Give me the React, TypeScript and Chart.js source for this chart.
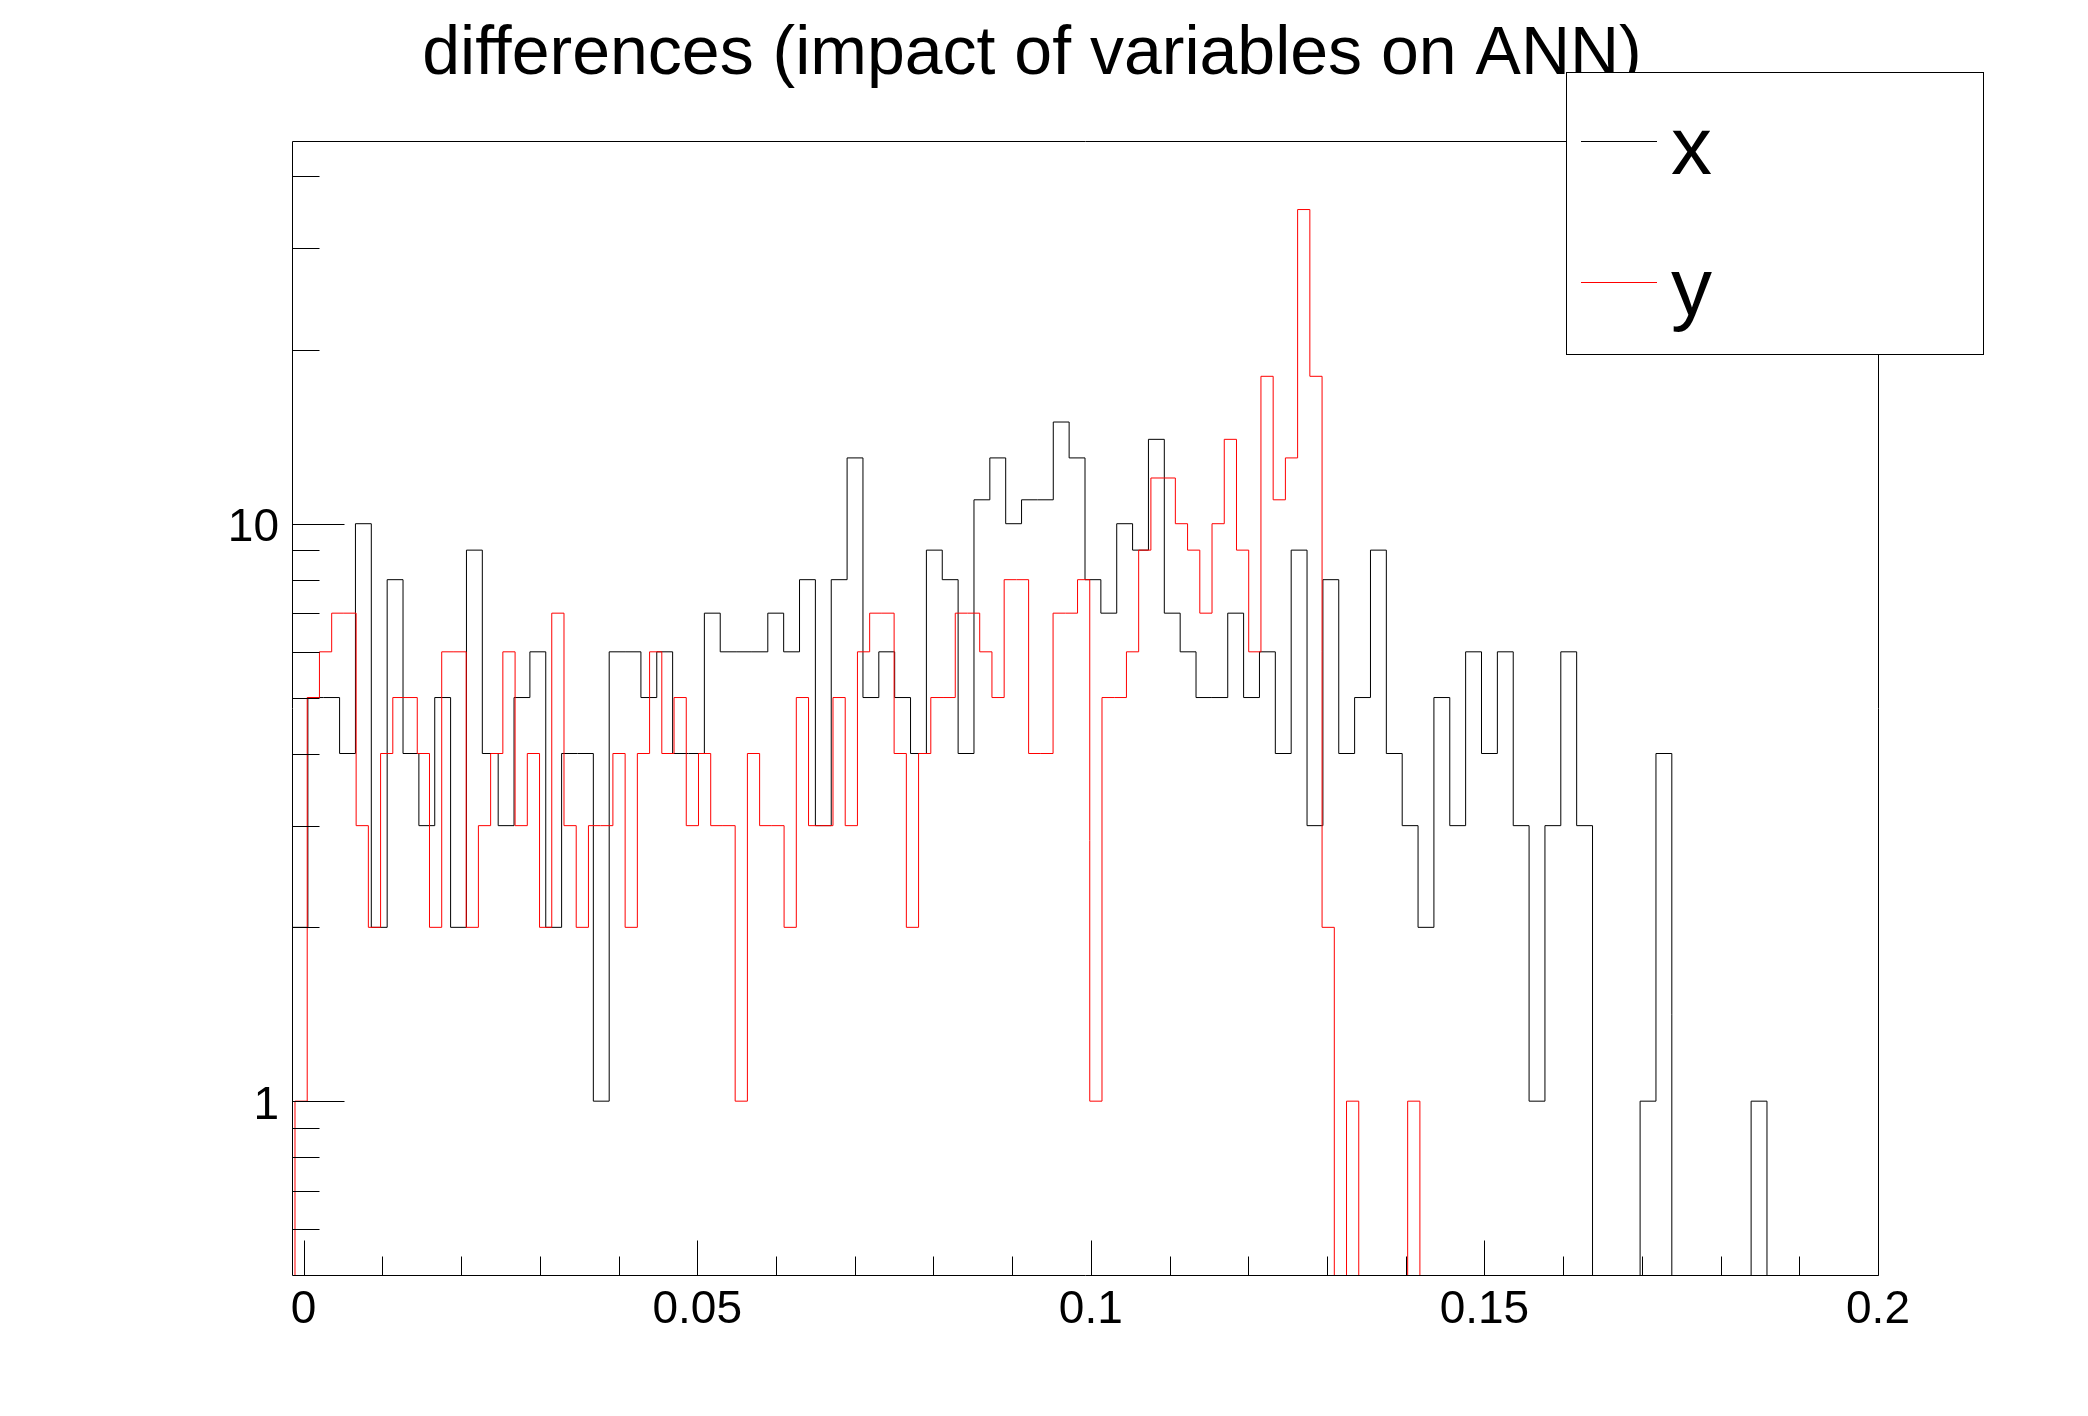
import React, { useEffect, useRef } from 'react';
import { Chart, registerables } from 'chart.js';

Chart.register(...registerables);

// histogram "x" (black): 100 equal bins over xHistRange
const xHistRange = [-0.00148, 0.2];
const xHistCounts = [
  2, 5, 5, 4, 10, 2, 8, 4, 3, 5,
  2, 9, 4, 3, 5, 6, 2, 4, 4, 1,
  6, 6, 5, 6, 4, 4, 7, 6, 6, 6,
  7, 6, 8, 3, 8, 13, 5, 6, 5, 4,
  9, 8, 4, 11, 13, 10, 11, 11, 15, 13,
  8, 7, 10, 9, 14, 7, 6, 5, 5, 7,
  5, 6, 4, 9, 3, 8, 4, 5, 9, 4,
  3, 2, 5, 3, 6, 4, 6, 3, 1, 3,
  6, 3, 0, 0, 0, 1, 4, 0, 0, 0,
  0, 0, 1, 0, 0, 0, 0, 0, 0, 0,
];

// histogram "y" (red): 100 equal bins over yHistRange
const yHistRange = [-0.0011, 0.15423];
const yHistCounts = [
  1, 5, 6, 7, 7, 3, 2, 4, 5, 5,
  4, 2, 6, 6, 2, 3, 4, 6, 3, 4,
  2, 7, 3, 2, 3, 3, 4, 2, 4, 6,
  4, 5, 3, 4, 3, 3, 1, 4, 3, 3,
  2, 5, 3, 3, 5, 3, 6, 7, 7, 4,
  2, 4, 5, 5, 7, 7, 6, 5, 8, 8,
  4, 4, 7, 7, 8, 1, 5, 5, 6, 9,
  12, 12, 10, 9, 7, 10, 14, 9, 6, 18,
  11, 13, 35, 18, 2, 0, 1, 0, 0, 0,
  0, 1, 0, 0, 0, 0, 0, 0, 0, 0,
];

const seriesNames = ['x', 'y'];
const plotTitle = 'differences (impact of variables on ANN)';

const xMajorTicks = [0, 0.05, 0.1, 0.15, 0.2];
const xMinorTicks = [
  0.01, 0.02, 0.03, 0.04, 0.06, 0.07, 0.08, 0.09,
  0.11, 0.12, 0.13, 0.14, 0.16, 0.17, 0.18, 0.19,
];
const yMajorTicks = [1, 10];
const yMinorTicks = [0.6, 0.7, 0.8, 0.9, 2, 3, 4, 5, 6, 7, 8, 9, 20, 30, 40];

const FONT = '"Liberation Sans", Arial, Helvetica, sans-serif';
const EMPTY = 0.1; // below the y range: empty bins drop to the frame bottom

function histPoints(range: number[], counts: number[]) {
  const w = (range[1] - range[0]) / counts.length;
  const pts = [{ x: range[0], y: EMPTY }];
  counts.forEach((c, i) => pts.push({ x: range[0] + i * w, y: c > 0 ? c : EMPTY }));
  pts.push({ x: range[1], y: EMPTY });
  return pts;
}

const crisp = (v: number) => Math.round(v) + 0.5;

const rootStyle = {
  id: 'rootStyle',
  afterDatasetsDraw(chart: any) {
    const { ctx, chartArea: a, scales } = chart;
    const L = crisp(a.left), R = crisp(a.right), T = crisp(a.top), B = crisp(a.bottom);
    ctx.save();
    ctx.strokeStyle = '#000';
    ctx.lineWidth = 1;
    ctx.beginPath();
    ctx.rect(L, T, R - L, B - T);
    yMajorTicks.forEach((v) => {
      const y = crisp(scales.y.getPixelForValue(v));
      ctx.moveTo(L, y); ctx.lineTo(L + 52, y);
    });
    yMinorTicks.forEach((v) => {
      const y = crisp(scales.y.getPixelForValue(v));
      ctx.moveTo(L, y); ctx.lineTo(L + 27, y);
    });
    xMajorTicks.forEach((v) => {
      const x = crisp(scales.x.getPixelForValue(v));
      ctx.moveTo(x, B); ctx.lineTo(x, B - 35);
    });
    xMinorTicks.forEach((v) => {
      const x = crisp(scales.x.getPixelForValue(v));
      ctx.moveTo(x, B); ctx.lineTo(x, B - 19);
    });
    ctx.stroke();
    ctx.restore();
  },
  afterDraw(chart: any) {
    const { ctx } = chart;
    ctx.save();
    ctx.fillStyle = '#000';
    ctx.font = `68px ${FONT}`;
    ctx.textAlign = 'center';
    ctx.textBaseline = 'alphabetic';
    ctx.fillText(plotTitle, 1032, 74);

    // legend box
    ctx.fillStyle = '#fff';
    ctx.fillRect(1566.5, 72.5, 417, 282);
    ctx.strokeStyle = '#000';
    ctx.lineWidth = 1;
    ctx.strokeRect(1566.5, 72.5, 417, 282);
    const colors = ['#000000', '#ff0000'];
    const rows = [141, 282];
    seriesNames.forEach((name, i) => {
      ctx.strokeStyle = colors[i];
      ctx.beginPath();
      ctx.moveTo(1581, rows[i] + 0.5);
      ctx.lineTo(1657, rows[i] + 0.5);
      ctx.stroke();
      ctx.fillStyle = '#000';
      ctx.font = `82px ${FONT}`;
      ctx.textAlign = 'left';
      ctx.fillText(name, 1671, rows[i] + 33);
    });
    ctx.restore();
  },
};

const App: React.FC = () => {
  const chartRef = useRef<HTMLCanvasElement>(null);
  const chartInstance = useRef<Chart | null>(null);

  useEffect(() => {
    if (!chartRef.current) return;
    if (chartInstance.current) chartInstance.current.destroy();
    const ctx = chartRef.current.getContext('2d');
    if (!ctx) return;

    chartInstance.current = new Chart(ctx, {
      type: 'line',
      data: {
        datasets: [
          {
            label: seriesNames[0],
            data: histPoints(xHistRange, xHistCounts),
            borderColor: '#000000',
            borderWidth: 1,
            stepped: true,
            pointRadius: 0,
            fill: false,
            order: 1,
          },
          {
            label: seriesNames[1],
            data: histPoints(yHistRange, yHistCounts),
            borderColor: '#ff0000',
            borderWidth: 1,
            stepped: true,
            pointRadius: 0,
            fill: false,
            order: 0,
          },
        ],
      },
      options: {
        animation: false,
        responsive: true,
        maintainAspectRatio: false,
        devicePixelRatio: 1,
        events: [],
        layout: { padding: { left: 0, top: 141, right: 210, bottom: 41 } },
        plugins: {
          legend: { display: false },
          title: { display: false },
          tooltip: { enabled: false },
        },
        scales: {
          x: {
            type: 'linear',
            min: xHistRange[0],
            max: xHistRange[1],
            grid: { display: false, drawTicks: false },
            border: { display: false },
            afterFit: (s: any) => { s.height = 100; },
            afterBuildTicks: (s: any) => { s.ticks = xMajorTicks.map((v) => ({ value: v })); },
            ticks: {
              autoSkip: false,
              maxRotation: 0,
              padding: 8,
              color: '#000',
              font: { family: FONT, size: 46 },
              callback: (v: any) => String(+Number(v).toFixed(3)),
            },
          },
          y: {
            type: 'logarithmic',
            min: 0.5,
            max: 46,
            grid: { display: false, drawTicks: false },
            border: { display: false },
            afterFit: (s: any) => { s.width = 292; },
            afterBuildTicks: (s: any) => { s.ticks = yMajorTicks.map((v) => ({ value: v })); },
            ticks: {
              autoSkip: false,
              padding: 13,
              labelOffset: 5,
              color: '#000',
              font: { family: FONT, size: 46 },
              callback: (v: any) => String(v),
            },
          },
        },
      },
      plugins: [rootStyle],
    });

    return () => {
      if (chartInstance.current) {
        chartInstance.current.destroy();
        chartInstance.current = null;
      }
    };
  }, []);

  return (
    <div style={{ position: 'fixed', left: 0, top: 0, width: '2088px', height: '1416px', background: '#fff' }}>
      <canvas ref={chartRef} />
    </div>
  );
};

export default App;
